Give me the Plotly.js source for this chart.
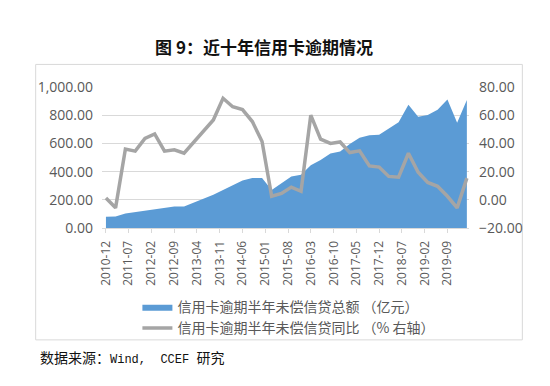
<!DOCTYPE html>
<html>
<head>
<meta charset="utf-8">
<script src="https://cdn.plot.ly/plotly-3.0.1.min.js"></script>
<style>
html,body{margin:0;padding:0;background:#fff;}
#chart{width:550px;height:386px;}
</style>
</head>
<body>
<div id="chart"></div>
<script>
const dates = ['2010-12','2011-03','2011-06','2011-09','2011-12','2012-03','2012-06','2012-09','2012-12','2013-03','2013-06','2013-09','2013-12','2014-03','2014-06','2014-09','2014-12','2015-03','2015-06','2015-09','2015-12','2016-03','2016-06','2016-09','2016-12','2017-03','2017-06','2017-09','2017-12','2018-03','2018-06','2018-09','2018-12','2019-03','2019-06','2019-09','2019-12','2020-03'];
const overdueAmount = [79,82,102,112,117,131,142,152,152,178,206,236,270,303,336,354,355,270,320,366,378,445,483,528,542,595,640,658,662,705,750,874,789,801,838,912,747,907];
const overdueYoY = [1.3,-5.7,36,34.5,43.5,46.7,34.5,35.5,33,41,48.5,56.6,72,66,64,55.5,41.3,2.5,4.5,9,6,60,43,40,41,33.5,34.7,24,23.2,16.6,16,33,19.5,12.3,9.6,2.5,-5.7,15.4];
const seriesNames = ['信用卡逾期半年未偿信贷总额 （亿元）','信用卡逾期半年未偿信贷同比 （% 右轴）'];
const titleText = '图 9：近十年信用卡逾期情况';
const sourceText = '数据来源：<span style="font-family:\'Liberation Mono\';font-size:12px">Wind,&nbsp;&nbsp;CCEF </span>研究';

const L = 101.5, R = 80.5, T = 86.7, B = 157.5;
const W = 550, H = 386;
const pw = W - L - R, ph = H - T - B;
const px = v => (v - L) / pw;
const py = v => (H - B - v) / ph;

const tickFont = {family: 'Open Sans, Noto Sans CJK SC, sans-serif', size: 14, color: '#595959'};

const traces = [
  {
    x: dates, y: overdueAmount, name: seriesNames[0],
    type: 'scatter', mode: 'lines', fill: 'tozeroy',
    fillcolor: '#5b9bd5', line: {width: 0, color: '#5b9bd5'},
    yaxis: 'y'
  },
  {
    x: dates, y: overdueYoY, name: seriesNames[1],
    type: 'scatter', mode: 'lines',
    line: {width: 3.5, color: '#a5a5a5'},
    yaxis: 'y2'
  }
];

const layout = {
  width: W, height: H,
  margin: {l: L, r: R, t: T, b: B, pad: 0},
  paper_bgcolor: '#fff', plot_bgcolor: '#fff',
  font: {family: 'Noto Sans CJK SC, sans-serif', color: '#595959'},
  title: {
    text: titleText,
    font: {family: 'Noto Sans CJK SC, sans-serif', size: 17, color: '#111', weight: 'bold'},
    xref: 'container', yref: 'container',
    x: 264 / W, y: 1 - 48 / H, xanchor: 'center', yanchor: 'middle'
  },
  xaxis: {
    type: 'date',
    range: ['2010-10-25', '2020-03-21'],
    tick0: '2010-12-01', dtick: 'M7', tickformat: '%Y-%m',
    tickangle: -90,
    tickfont: {family: 'Open Sans, sans-serif', size: 12, color: '#595959'},
    ticks: 'outside', ticklen: 4, tickcolor: '#d9d9d9',
    showline: true, linecolor: '#d9d9d9', linewidth: 1,
    showgrid: false, zeroline: false,
    ticklabelstandoff: 3
  },
  yaxis: {
    range: [0, 1000], dtick: 200, tickformat: ',.2f',
    tickfont: tickFont,
    showgrid: true, gridcolor: '#d9d9d9', gridwidth: 1,
    zeroline: false, showline: false, ticks: '',
    ticklabelstandoff: 8
  },
  yaxis2: {
    range: [-20, 80], dtick: 20, tickformat: '.2f',
    overlaying: 'y', side: 'right',
    tickfont: tickFont,
    showgrid: false, zeroline: false, showline: false, ticks: '',
    ticklabelstandoff: 9
  },
  showlegend: true,
  legend: {
    x: px(137), y: py(292), xanchor: 'left', yanchor: 'top',
    orientation: 'v',
    font: {family: 'Noto Sans CJK SC, sans-serif', size: 14, color: '#595959'},
    bgcolor: 'rgba(0,0,0,0)', tracegroupgap: 0
  },
  shapes: [
    {type: 'rect', xref: 'paper', yref: 'paper',
     x0: px(35), x1: px(523), y0: py(341), y1: py(64),
     line: {color: '#d9d9d9', width: 1}, fillcolor: 'rgba(0,0,0,0)', layer: 'below'}
  ],
  annotations: [
    {text: sourceText, xref: 'paper', yref: 'paper',
     x: px(37), y: py(358), xanchor: 'left', yanchor: 'middle', showarrow: false,
     font: {family: 'Noto Sans CJK SC, sans-serif', size: 14, color: '#111'}}
  ],
  hovermode: false
};

Plotly.newPlot('chart', traces, layout, {staticPlot: true, displayModeBar: false});
</script>
</body>
</html>
